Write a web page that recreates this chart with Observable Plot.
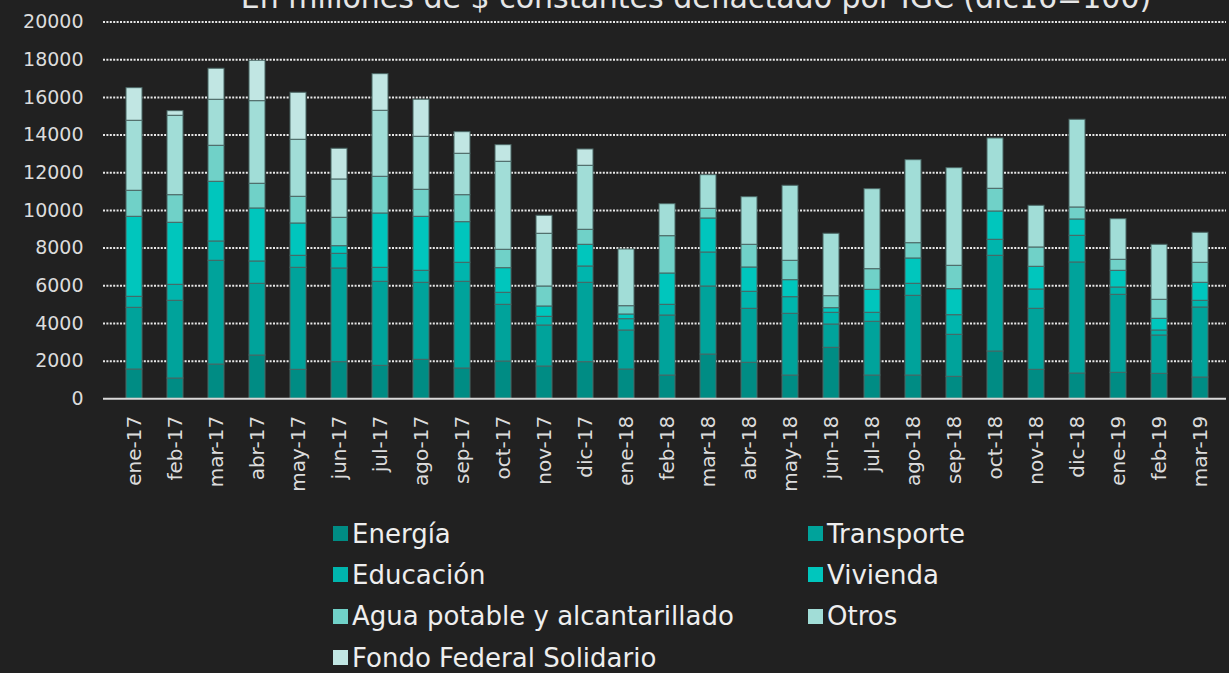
<!DOCTYPE html>
<html>
<head>
<meta charset="utf-8">
<script src="https://cdn.jsdelivr.net/npm/d3@7"></script>
<script src="https://cdn.jsdelivr.net/npm/@observablehq/plot@0.6"></script>
<style>
  html, body { margin: 0; padding: 0; background: #212121; overflow: hidden; }
  #wrap { position: relative; width: 1229px; height: 673px; font-family: "DejaVu Sans", sans-serif; }
  #title { position: absolute; top: -17px; left: 0; width: 1229px; text-align: center; padding-left: 163px; box-sizing: border-box;
           font-size: 30px; line-height: 30px; color: #e6e6e6; white-space: nowrap; }
  #chart { position: absolute; top: 0; left: 0; }
  #legend { position: absolute; top: 513px; left: 333px; display: grid; grid-template-columns: 475px auto; grid-auto-rows: 41.3px;
            font-size: 26px; color: #eeeeee; }
  .item { display: flex; align-items: center; white-space: nowrap; }
  .sw { width: 15px; height: 15px; margin-right: 4px; display: inline-block; }
</style>
</head>
<body>
<div id="wrap">
  <div id="chart"></div>
  <div id="title">En millones de $ constantes deflactado por IGC (dic16=100)</div>
  <div id="legend"></div>
</div>
<script>
const months = ["ene-17","feb-17","mar-17","abr-17","may-17","jun-17","jul-17","ago-17","sep-17","oct-17","nov-17","dic-17",
                "ene-18","feb-18","mar-18","abr-18","may-18","jun-18","jul-18","ago-18","sep-18","oct-18","nov-18","dic-18",
                "ene-19","feb-19","mar-19"];
const seriesNames = ["Energía","Transporte","Educación","Vivienda","Agua potable y alcantarillado","Otros","Fondo Federal Solidario"];
const seriesColors = ["#008c84","#00a39b","#00b5ad","#00c6bd","#70d1c8","#a1ddd7","#c1e6e3"];

const energia    = [1556,1078,1821,2299,1540,1944,1752,2071,1609,1981,1715,1944,1556,1237,2352,1912,1237,2708,1237,1237,1168,2512,1540,1343,1381,1327,1131];
const transporte = [3276,4126,5507,3808,5416,4975,4461,4089,4604,3010,2177,4216,2071,3186,3611,2867,3277,1237,2852,4232,2230,5081,3239,5895,4141,2034,3717];
const educacion  = [584,849,1025,1184,637,781,743,637,1009,638,462,865,600,568,1805,903,881,622,478,638,1041,850,1025,1417,388,266,356];
const vivienda   = [4248,3293,3170,2814,1715,403,2883,2867,2156,1306,547,1152,249,1662,1806,1290,903,244,1221,1343,1381,1503,1205,866,887,621,956];
const agua       = [1381,1465,1911,1312,1418,1508,1949,1434,1433,977,1062,797,441,1981,515,1205,1030,637,1094,812,1242,1205,1025,637,584,1009,1062];
const otros      = [3717,4216,2443,4386,3027,2034,3505,2814,2199,4673,2799,3398,3011,1699,1784,2528,3982,3314,4248,4408,5183,2671,2214,4657,2156,2920,1593];
const fondo      = [1731,245,1646,2145,2496,1630,1943,1965,1147,881,955,866,0,0,0,0,0,0,0,0,0,0,0,0,0,0,0];
const yTicks = [0,2000,4000,6000,8000,10000,12000,14000,16000,18000,20000];

const seriesValues = [energia, transporte, educacion, vivienda, agua, otros, fondo];
const data = [];
months.forEach((m, i) => {
  seriesNames.forEach((s, j) => data.push({month: m, serie: s, value: seriesValues[j][i]}));
});

const plot = Plot.plot({
  width: 1229,
  height: 510,
  marginLeft: 106,
  marginRight: 0,
  marginTop: 21.6,
  marginBottom: 111.7,
  style: {background: "transparent", color: "#dcdcdc", fontFamily: "DejaVu Sans, sans-serif"},
  x: {domain: months, paddingInner: 0.6, paddingOuter: 0.3, label: null},
  y: {domain: [0, 20000], label: null},
  color: {domain: seriesNames, range: seriesColors},
  marks: [
    Plot.ruleY(yTicks.filter(d => d > 0), {stroke: "#e8e8e8", strokeWidth: 2, strokeDasharray: "2,1.4", dx: -3}),
    Plot.barY(data, {x: "month", y: "value", fill: "serie", stroke: "#4a6664", strokeWidth: 1, order: seriesNames}),
    Plot.ruleY([0], {stroke: "#d9d9d9", strokeWidth: 2, dx: -3}),
    Plot.axisY({ticks: yTicks, tickSize: 0, tickPadding: 23, fontSize: 19, tickFormat: d => String(d), label: null}),
    Plot.axisX({tickRotate: -90, tickSize: 0, tickPadding: 17, fontSize: 20, label: null})
  ]
});
document.getElementById("chart").appendChild(plot);

const legend = document.getElementById("legend");
seriesNames.forEach((s, j) => {
  const d = document.createElement("div");
  d.className = "item";
  d.innerHTML = `<span class="sw" style="background:${seriesColors[j]}"></span>${s}`;
  legend.appendChild(d);
});
</script>
</body>
</html>
